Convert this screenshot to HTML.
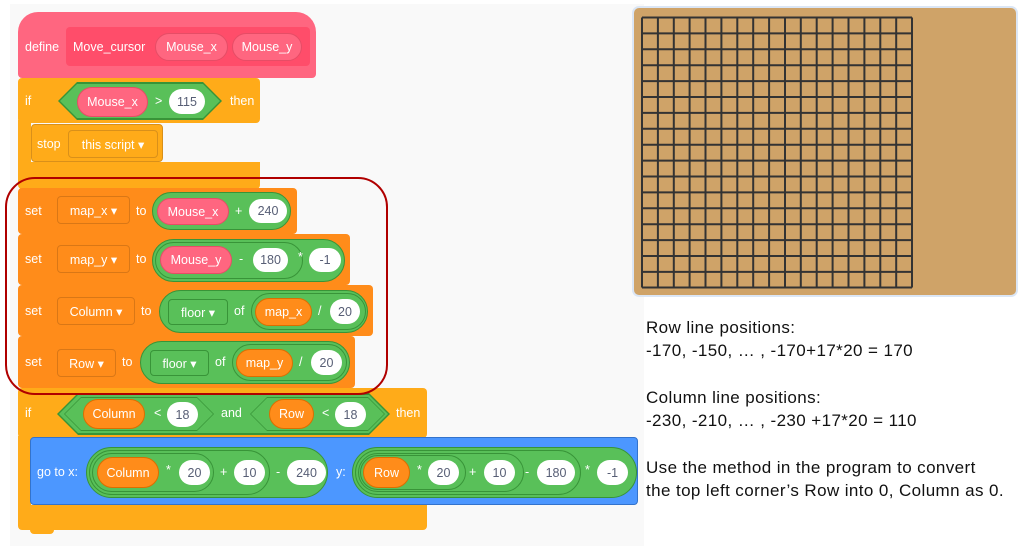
<!DOCTYPE html>
<html><head><meta charset="utf-8"><style>
body{margin:0;width:1023px;height:546px;background:#fff;position:relative;overflow:hidden;font-family:"Liberation Sans",sans-serif}
div{box-sizing:border-box}
.a{position:absolute}
.t{position:absolute;color:#fff;font-size:12.5px;line-height:14px;white-space:nowrap}
.p{position:absolute;border-radius:16px;color:#fff;font-size:12.5px;display:flex;align-items:center;justify-content:center;white-space:nowrap}
.w{background:#fff;color:#575e75}
.pk{background:#ff6680;border:1px solid #e64d66}
.or{background:#ff8c1a;border:1px solid #db6e00}
.g{background:#59c059;border:1px solid #389438}
.dd{position:absolute;border:1px solid rgba(0,0,0,.15);border-radius:4px;color:#fff;font-size:12.5px;display:flex;align-items:center;justify-content:center;white-space:nowrap}
.txt{position:absolute;left:646px;font-size:17px;letter-spacing:0.4px;color:#111;line-height:20px;white-space:nowrap}
</style></head><body>
<div class="a" style="left:10px;top:4px;width:634px;height:542px;background:#f9f9f9"></div>

<!-- define -->
<div class="a" style="left:18px;top:12px;width:298px;height:66px;background:#ff6680;border-radius:20px 20px 4px 4px"></div>
<div class="a" style="left:66px;top:27px;width:244px;height:39px;background:#ff4d6a;border-radius:4px"></div>
<div class="t" style="left:25px;top:40px">define</div>
<div class="t" style="left:73px;top:40px">Move_cursor</div>
<div class="p pk" style="left:155px;top:33px;width:73px;height:28px">Mouse_x</div>
<div class="p pk" style="left:232px;top:33px;width:70px;height:28px">Mouse_y</div>

<!-- if 1 -->
<div class="a" style="left:18px;top:78px;width:242px;height:45px;background:#ffab19;border-radius:4px"></div>
<div class="a" style="left:18px;top:120px;width:13px;height:45px;background:#ffab19"></div>
<div class="a" style="left:18px;top:162px;width:242px;height:27px;background:#ffab19;border-radius:0 0 4px 4px"></div>
<div class="t" style="left:25px;top:94px">if</div>
<div class="a" style="left:58px;top:82px;width:164px;height:38px;background:#389438;clip-path:polygon(19px 0,145px 0,100% 50%,145px 100%,19px 100%,0 50%)"></div>
<div class="a" style="left:60px;top:84px;width:160px;height:34px;background:#59c059;clip-path:polygon(17px 0,143px 0,100% 50%,143px 100%,17px 100%,0 50%)"></div>
<div class="p pk" style="left:77px;top:87px;width:71px;height:30px">Mouse_x</div>
<div class="t" style="left:155px;top:94px">&gt;</div>
<div class="p w" style="left:169px;top:89px;width:36px;height:25px">115</div>
<div class="t" style="left:230px;top:94px">then</div>
<!-- stop -->
<div class="a" style="left:31px;top:124px;width:132px;height:38px;background:#ffab19;border:1px solid #d9901a;border-radius:4px"></div>
<div class="t" style="left:37px;top:137px">stop</div>
<div class="dd" style="left:68px;top:130px;width:90px;height:28px;border-color:#d9901a">this script &#9662;</div>

<!-- set map_x -->
<div class="a" style="left:18px;top:188px;width:279px;height:46px;background:#ff8c1a;border-radius:4px"></div>
<div class="t" style="left:25px;top:204px">set</div>
<div class="dd" style="left:57px;top:196px;width:73px;height:28px">map_x &#9662;</div>
<div class="t" style="left:136px;top:204px">to</div>
<div class="p g" style="left:152px;top:192px;width:139px;height:38px;border-radius:20px"></div>
<div class="p pk" style="left:157px;top:198px;width:72px;height:27px">Mouse_x</div>
<div class="t" style="left:235px;top:204px">+</div>
<div class="p w" style="left:249px;top:199px;width:38px;height:24px">240</div>

<!-- set map_y -->
<div class="a" style="left:18px;top:234px;width:332px;height:51px;background:#ff8c1a;border-radius:4px"></div>
<div class="t" style="left:25px;top:252px">set</div>
<div class="dd" style="left:57px;top:245px;width:73px;height:28px">map_y &#9662;</div>
<div class="t" style="left:136px;top:252px">to</div>
<div class="p g" style="left:152px;top:239px;width:193px;height:43px;border-radius:22px"></div>
<div class="p g" style="left:155px;top:242px;width:148px;height:37px;border-radius:19px"></div>
<div class="p pk" style="left:160px;top:246px;width:72px;height:28px">Mouse_y</div>
<div class="t" style="left:239px;top:252px">-</div>
<div class="p w" style="left:253px;top:248px;width:35px;height:24px">180</div>
<div class="t" style="left:298px;top:250px">*</div>
<div class="p w" style="left:309px;top:248px;width:32px;height:24px">-1</div>

<!-- set Column -->
<div class="a" style="left:18px;top:285px;width:355px;height:51px;background:#ff8c1a;border-radius:4px"></div>
<div class="t" style="left:25px;top:304px">set</div>
<div class="dd" style="left:57px;top:297px;width:78px;height:28px">Column &#9662;</div>
<div class="t" style="left:141px;top:304px">to</div>
<div class="p g" style="left:159px;top:290px;width:209px;height:43px;border-radius:22px"></div>
<div class="dd" style="left:168px;top:299px;width:60px;height:26px;border-color:#389438">floor &#9662;</div>
<div class="t" style="left:234px;top:304px">of</div>
<div class="p g" style="left:251px;top:293px;width:115px;height:37px;border-radius:19px"></div>
<div class="p or" style="left:255px;top:298px;width:57px;height:28px">map_x</div>
<div class="t" style="left:318px;top:304px">/</div>
<div class="p w" style="left:330px;top:299px;width:30px;height:25px">20</div>

<!-- set Row -->
<div class="a" style="left:18px;top:336px;width:337px;height:52px;background:#ff8c1a;border-radius:4px"></div>
<div class="t" style="left:25px;top:355px">set</div>
<div class="dd" style="left:57px;top:349px;width:59px;height:28px">Row &#9662;</div>
<div class="t" style="left:122px;top:355px">to</div>
<div class="p g" style="left:140px;top:341px;width:210px;height:43px;border-radius:22px"></div>
<div class="dd" style="left:150px;top:350px;width:59px;height:26px;border-color:#389438">floor &#9662;</div>
<div class="t" style="left:215px;top:355px">of</div>
<div class="p g" style="left:232px;top:344px;width:115px;height:37px;border-radius:19px"></div>
<div class="p or" style="left:236px;top:349px;width:57px;height:28px">map_y</div>
<div class="t" style="left:299px;top:355px">/</div>
<div class="p w" style="left:311px;top:350px;width:31px;height:25px">20</div>

<!-- if 2 -->
<div class="a" style="left:18px;top:388px;width:409px;height:50px;background:#ffab19;border-radius:4px"></div>
<div class="a" style="left:18px;top:436px;width:13px;height:72px;background:#ffab19"></div>
<div class="a" style="left:18px;top:505px;width:409px;height:25px;background:#ffab19;border-radius:0 0 4px 4px"></div>
<div class="a" style="left:30px;top:529px;width:24px;height:5px;background:#ffab19;border-radius:0 0 4px 4px"></div>
<div class="t" style="left:25px;top:406px">if</div>
<div class="a" style="left:57px;top:393px;width:333px;height:42px;background:#389438;clip-path:polygon(21px 0,312px 0,100% 50%,312px 100%,21px 100%,0 50%)"></div>
<div class="a" style="left:59px;top:395px;width:329px;height:38px;background:#59c059;clip-path:polygon(19px 0,310px 0,100% 50%,310px 100%,19px 100%,0 50%)"></div>
<div class="a" style="left:64px;top:397px;width:150px;height:34px;background:#389438;clip-path:polygon(17px 0,133px 0,100% 50%,133px 100%,17px 100%,0 50%)"></div>
<div class="a" style="left:65px;top:398px;width:148px;height:32px;background:#59c059;clip-path:polygon(16px 0,132px 0,100% 50%,132px 100%,16px 100%,0 50%)"></div>
<div class="a" style="left:250px;top:397px;width:135px;height:34px;background:#389438;clip-path:polygon(17px 0,118px 0,100% 50%,118px 100%,17px 100%,0 50%)"></div>
<div class="a" style="left:251px;top:398px;width:133px;height:32px;background:#59c059;clip-path:polygon(16px 0,117px 0,100% 50%,117px 100%,16px 100%,0 50%)"></div>
<div class="p or" style="left:83px;top:399px;width:62px;height:30px">Column</div>
<div class="t" style="left:154px;top:406px">&lt;</div>
<div class="p w" style="left:167px;top:402px;width:31px;height:25px">18</div>
<div class="t" style="left:221px;top:406px">and</div>
<div class="p or" style="left:269px;top:399px;width:45px;height:30px">Row</div>
<div class="t" style="left:322px;top:406px">&lt;</div>
<div class="p w" style="left:335px;top:402px;width:31px;height:25px">18</div>
<div class="t" style="left:396px;top:406px">then</div>

<!-- go to -->
<div class="a" style="left:30px;top:437px;width:608px;height:68px;background:#4c97ff;border:1px solid #3373cc;border-radius:4px"></div>
<div class="t" style="left:37px;top:465px">go to x:</div>
<div class="p g" style="left:86px;top:447px;width:242px;height:51px;border-radius:26px"></div>
<div class="p g" style="left:89px;top:450px;width:181px;height:45px;border-radius:23px"></div>
<div class="p g" style="left:92px;top:453px;width:122px;height:39px;border-radius:20px"></div>
<div class="p or" style="left:97px;top:457px;width:62px;height:31px">Column</div>
<div class="t" style="left:166px;top:463px">*</div>
<div class="p w" style="left:179px;top:460px;width:31px;height:25px">20</div>
<div class="t" style="left:220px;top:465px">+</div>
<div class="p w" style="left:234px;top:460px;width:31px;height:25px">10</div>
<div class="t" style="left:276px;top:465px">-</div>
<div class="p w" style="left:287px;top:460px;width:39px;height:25px">240</div>
<div class="t" style="left:336px;top:465px">y:</div>
<div class="p g" style="left:352px;top:447px;width:285px;height:51px;border-radius:26px"></div>
<div class="p g" style="left:355px;top:450px;width:226px;height:45px;border-radius:23px"></div>
<div class="p g" style="left:358px;top:453px;width:166px;height:39px;border-radius:20px"></div>
<div class="p g" style="left:360px;top:455px;width:106px;height:35px;border-radius:18px"></div>
<div class="p or" style="left:363px;top:457px;width:47px;height:31px">Row</div>
<div class="t" style="left:417px;top:463px">*</div>
<div class="p w" style="left:428px;top:460px;width:31px;height:25px">20</div>
<div class="t" style="left:469px;top:465px">+</div>
<div class="p w" style="left:484px;top:460px;width:31px;height:25px">10</div>
<div class="t" style="left:525px;top:465px">-</div>
<div class="p w" style="left:537px;top:460px;width:38px;height:25px">180</div>
<div class="t" style="left:585px;top:463px">*</div>
<div class="p w" style="left:597px;top:460px;width:31px;height:25px">-1</div>

<!-- red highlight -->
<div class="a" style="left:5px;top:177px;width:383px;height:218px;border:2px solid #b00000;border-radius:30px"></div>

<!-- stage -->
<svg class="a" style="left:630px;top:4px" width="390" height="294">
<rect x="3" y="3" width="384" height="289" rx="6" fill="#cfa368" stroke="#dbe6f5" stroke-width="2"/>
<g stroke="#333" stroke-width="2" fill="none">
<path d="M12 13.5H282 M12 29.4H282 M12 45.3H282 M12 61.2H282 M12 77.1H282 M12 93H282 M12 108.9H282 M12 124.8H282 M12 140.7H282 M12 156.6H282 M12 172.5H282 M12 188.4H282 M12 204.3H282 M12 220.2H282 M12 236.1H282 M12 252H282 M12 267.9H282 M12 283.5H282"/>
<path d="M12 13.5V283.5 M27.9 13.5V283.5 M43.8 13.5V283.5 M59.6 13.5V283.5 M75.5 13.5V283.5 M91.4 13.5V283.5 M107.3 13.5V283.5 M123.2 13.5V283.5 M139.1 13.5V283.5 M155 13.5V283.5 M170.8 13.5V283.5 M186.7 13.5V283.5 M202.6 13.5V283.5 M218.5 13.5V283.5 M234.4 13.5V283.5 M250.3 13.5V283.5 M266.2 13.5V283.5 M282 13.5V283.5"/>
</g>
</svg>

<div class="txt" style="top:318px">Row line positions:</div>
<div class="txt" style="top:341px">-170, -150, … , -170+17*20 = 170</div>
<div class="txt" style="top:388px">Column line positions:</div>
<div class="txt" style="top:411px">-230, -210, … , -230 +17*20 = 110</div>
<div class="txt" style="top:458px">Use the method in the program to convert</div>
<div class="txt" style="top:481px">the top left corner’s Row into 0, Column as 0.</div>
</body></html>
